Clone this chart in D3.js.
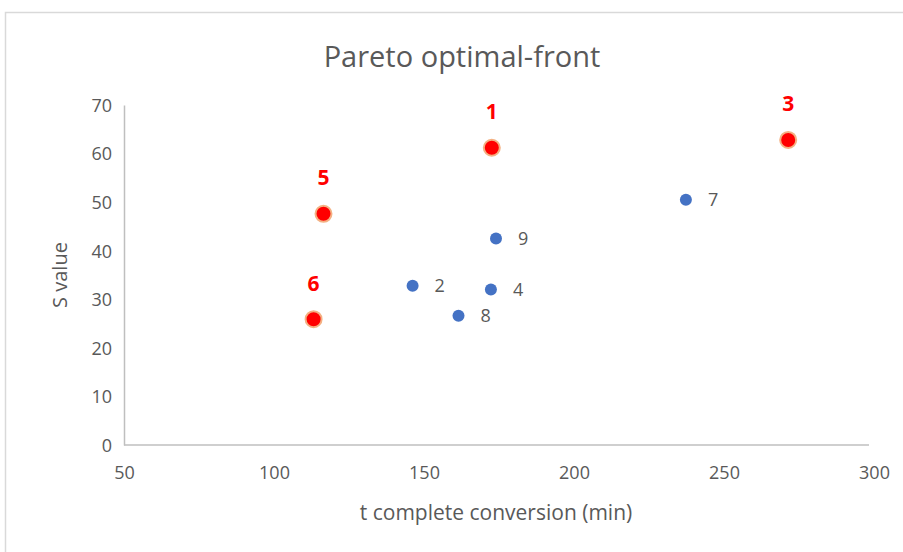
<!DOCTYPE html>
<html>
<head>
<meta charset="utf-8">
<script src="https://cdn.jsdelivr.net/npm/d3@7"></script>
<style>
  body { margin: 0; background: #fff; }
  text { font-family: "Open Sans", "Noto Sans", sans-serif; }
</style>
</head>
<body>
<div id="chart"></div>
<script>
// values
var pointIds  = ["1", "2", "3", "4", "5", "6", "7", "8", "9"];
var tValues   = [172.6, 146.2, 271.4, 172.3, 116.5, 113.2, 237.3, 161.5, 174.0];
var sValues   = [61.2, 32.8, 62.8, 32.0, 47.6, 25.9, 50.5, 26.6, 42.5];
var paretoIds = ["1", "3", "5", "6"];
var xTicks = [50, 100, 150, 200, 250, 300];
var yTicks = [0, 10, 20, 30, 40, 50, 60, 70];

var outWidth = 903, outHeight = 552;
var margin = {top: 105, right: 35, bottom: 107, left: 124},
    width = outWidth - margin.left - margin.right,
    height = outHeight - margin.top - margin.bottom;

var data = pointIds.map(function(id, i) {
  return {id: id, t: tValues[i], s: sValues[i], pareto: paretoIds.indexOf(id) >= 0};
});

var xScale = d3.scaleLinear().domain([50, 300]).range([0, 750]);
var yScale = d3.scaleLinear().domain([0, 70]).range([height, 0]);

var root = d3.select("#chart").append("svg")
    .attr("width", outWidth)
    .attr("height", outHeight);

// chart border
root.append("rect")
    .attr("x", 5.5).attr("y", 12.5)
    .attr("width", 1000).attr("height", 1000)
    .style("fill", "none")
    .style("stroke", "#d9d9d9")
    .style("stroke-width", 1.5);

var svg = root.append("g")
    .attr("transform", "translate(" + margin.left + "," + margin.top + ")");

// axes
var xAxis = d3.axisBottom(xScale).tickValues(xTicks).tickSize(0).tickPadding(20);
var yAxis = d3.axisLeft(yScale).tickValues(yTicks).tickSize(0).tickPadding(12);

var gx = svg.append("g")
    .attr("transform", "translate(0," + height + ")")
    .call(xAxis);
var gy = svg.append("g").call(yAxis);

[gx, gy].forEach(function(g) {
  g.select(".domain").attr("stroke", "#bfbfbf").attr("stroke-width", 1.5);
  g.selectAll(".tick text")
    .attr("fill", "#595959")
    .style("font-size", "18px");
});
gx.select(".domain").attr("d", "M0,0H745");
gx.selectAll(".tick text").attr("dy", "0.8em");
gy.selectAll(".tick text").attr("dy", "0.35em");

// axis titles
svg.append("text")
    .attr("x", 372)
    .attr("y", height + 75)
    .attr("text-anchor", "middle")
    .attr("fill", "#595959")
    .style("font-size", "21px")
    .text("t complete conversion (min)");

svg.append("text")
    .attr("transform", "rotate(-90)")
    .attr("x", -170)
    .attr("y", -57)
    .attr("text-anchor", "middle")
    .attr("fill", "#595959")
    .style("font-size", "20px")
    .text("S value");

// title
root.append("text")
    .attr("x", 462)
    .attr("y", 67)
    .attr("text-anchor", "middle")
    .attr("fill", "#595959")
    .style("font-size", "29px")
    .text("Pareto optimal-front");

// points
var others = data.filter(function(d) { return !d.pareto; });
var front = data.filter(function(d) { return d.pareto; });

svg.selectAll("circle.other")
    .data(others)
    .enter().append("circle")
    .attr("class", "other")
    .attr("cx", function(d) { return xScale(d.t); })
    .attr("cy", function(d) { return yScale(d.s); })
    .attr("r", 6)
    .attr("fill", "#4472c4");

svg.selectAll("text.other")
    .data(others)
    .enter().append("text")
    .attr("class", "other")
    .attr("x", function(d) { return xScale(d.t) + 22; })
    .attr("y", function(d) { return yScale(d.s); })
    .attr("dy", "0.35em")
    .attr("fill", "#595959")
    .style("font-size", "18px")
    .text(function(d) { return d.id; });

svg.selectAll("circle.front")
    .data(front)
    .enter().append("circle")
    .attr("class", "front")
    .attr("cx", function(d) { return xScale(d.t); })
    .attr("cy", function(d) { return yScale(d.s); })
    .attr("r", 8)
    .attr("fill", "#ff0000")
    .attr("stroke", "#f4b183")
    .attr("stroke-width", 2);

svg.selectAll("text.front")
    .data(front)
    .enter().append("text")
    .attr("class", "front")
    .attr("x", function(d) { return xScale(d.t); })
    .attr("y", function(d) { return yScale(d.s) - 36; })
    .attr("dy", "0.35em")
    .attr("text-anchor", "middle")
    .attr("fill", "#ff0000")
    .style("font-size", "21px")
    .style("font-weight", "bold")
    .text(function(d) { return d.id; });
</script>
</body>
</html>
